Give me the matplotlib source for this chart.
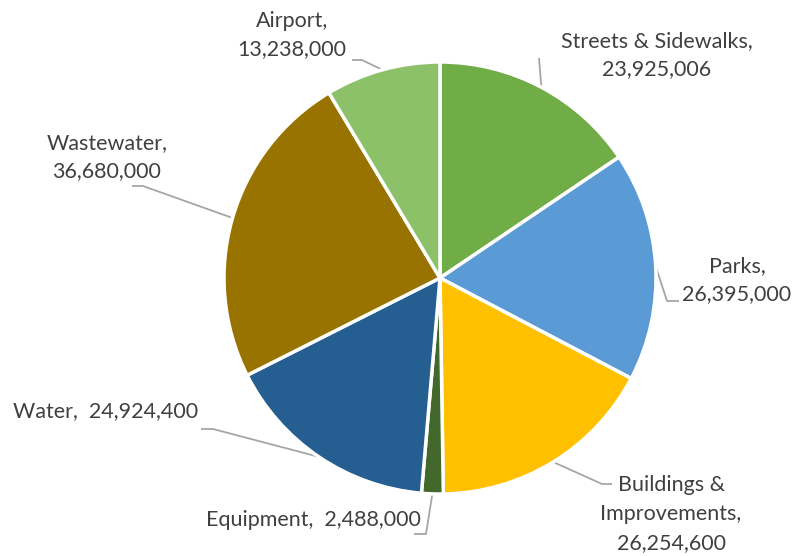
import numpy as np
import matplotlib
matplotlib.use("Agg")
import matplotlib.pyplot as plt

categories = ["Streets & Sidewalks", "Parks", "Buildings & Improvements", "Equipment",
              "Water", "Wastewater", "Airport"]
values = [23925006, 26395000, 26254600, 2488000, 24924400, 36680000, 13238000]
label_texts = ["Streets & Sidewalks,\n23,925,006", "Parks,\n26,395,000",
               "Buildings &\nImprovements,\n26,254,600", "Equipment,  2,488,000",
               "Water,  24,924,400", "Wastewater,\n36,680,000", "Airport,\n13,238,000"]
colors = ["#70AD47", "#5B9BD5", "#FFC000", "#43682B", "#255E91", "#997300", "#8DC169"]

W, H = 794, 556
fig = plt.figure(figsize=(W / 100, H / 100), dpi=100)
ax = fig.add_axes([0, 0, 1, 1])

cx, cy, R = 440, H - 278, 216
wedges, _ = ax.pie(values, startangle=90, counterclock=False, colors=colors,
                   center=(cx, cy), radius=R,
                   wedgeprops=dict(edgecolor="white", linewidth=2.5))
ax.set_xlim(0, W)
ax.set_ylim(0, H)
ax.set_aspect("equal")
ax.axis("off")

# layout: text center (px), leader polyline points after the edge point (px)
layout = [
    ((657, 55), [(539, 58)]),
    ((737, 280), [(667, 301), (679, 301)]),
    ((671, 514), [(602, 484), (612, 484)]),
    ((313, 520), [(426, 534), (414, 534)]),
    ((106, 411), [(213, 429), (201, 429)]),
    ((107, 157), [(143, 186), (132, 186)]),
    ((292, 35), [(362, 60), (352, 60)]),
]

for w, txt, ((tx, ty), pts) in zip(wedges, label_texts, layout):
    mid = np.deg2rad((w.theta1 + w.theta2) / 2)
    ex, ey = cx + R * np.cos(mid), cy + R * np.sin(mid)
    xs = [ex] + [p[0] for p in pts]
    ys = [ey] + [H - p[1] for p in pts]
    ax.plot(xs, ys, color="#A6A6A6", lw=1.3, solid_capstyle="butt", zorder=0.5)
    ax.text(tx, H - ty, txt, ha="center", va="center", fontsize=15.5,
            family="Lato", color="#404040", linespacing=1.55)

fig.savefig("out.png", dpi=100)
